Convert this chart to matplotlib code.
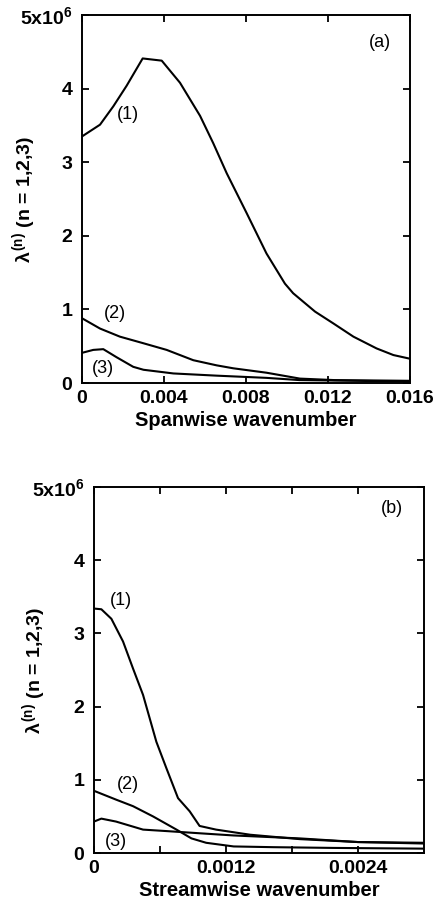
import numpy as np
import matplotlib
matplotlib.use('Agg')
import matplotlib.pyplot as plt

plt.rcParams['font.family'] = ['Liberation Sans', 'DejaVu Sans']
plt.rcParams['mathtext.fontset'] = 'custom'
plt.rcParams['mathtext.rm'] = 'Liberation Sans:bold'
plt.rcParams['mathtext.it'] = 'Liberation Sans:bold'
plt.rcParams['mathtext.bf'] = 'Liberation Sans:bold'

# Panel (a): spanwise wavenumber, eigenvalues in units of 1e6
span_k1 = [0, 0.00088, 0.00153, 0.00218, 0.00296, 0.00389, 0.00478, 0.00576,
           0.0064, 0.00706, 0.00803, 0.009, 0.0099, 0.0103, 0.01137, 0.01226,
           0.01324, 0.01437, 0.01519, 0.016]
span_l1 = [3.35, 3.51, 3.76, 4.04, 4.41, 4.38, 4.08, 3.63, 3.26, 2.85, 2.31,
           1.76, 1.35, 1.22, 0.97, 0.81, 0.63, 0.47, 0.38, 0.33]
span_k2 = [0, 0.00088, 0.00185, 0.003, 0.00413, 0.00543, 0.00657, 0.00738,
           0.009, 0.01063, 0.0123, 0.016]
span_l2 = [0.88, 0.74, 0.63, 0.54, 0.45, 0.31, 0.24, 0.20, 0.14, 0.06, 0.04, 0.03]
span_k3 = [0, 0.00055, 0.00104, 0.00169, 0.0025, 0.003, 0.00446, 0.00657,
           0.009, 0.0106, 0.016]
span_l3 = [0.41, 0.45, 0.46, 0.35, 0.22, 0.18, 0.13, 0.10, 0.07, 0.04, 0.02]

# Panel (b): streamwise wavenumber
stream_k1 = [0, 0.000067, 0.000158, 0.000264, 0.000355, 0.000446, 0.000567,
             0.000658, 0.000764, 0.00087, 0.00096, 0.00111, 0.00142, 0.00187,
             0.0024, 0.003]
stream_l1 = [3.34, 3.33, 3.2, 2.89, 2.52, 2.16, 1.52, 1.16, 0.75, 0.57, 0.37,
             0.32, 0.25, 0.19, 0.15, 0.14]
stream_k2 = [0, 0.0002, 0.000355, 0.000537, 0.00075, 0.000886, 0.00102,
             0.00127, 0.00163, 0.00217, 0.003]
stream_l2 = [0.85, 0.73, 0.64, 0.50, 0.32, 0.20, 0.14, 0.09, 0.08, 0.07, 0.06]
stream_k3 = [0, 0.000067, 0.0002, 0.000446, 0.000658, 0.00096, 0.00127,
             0.00187, 0.0024, 0.003]
stream_l3 = [0.43, 0.47, 0.43, 0.32, 0.30, 0.27, 0.24, 0.20, 0.15, 0.13]

y_ticks = [0, 1, 2, 3, 4, 5]
y_labels = ['0', '1', '2', '3', '4', r'5x10$^6$']

fig = plt.figure(figsize=(4.37, 9.10), dpi=100)
ax1 = fig.add_axes([0.1876, 0.5791, 0.7506, 0.4044])
ax2 = fig.add_axes([0.2151, 0.0626, 0.7550, 0.4022])


def style_axes(ax, label_x):
    for s in ax.spines.values():
        s.set_linewidth(1.4)
    ax.tick_params(direction='in', length=5, width=1.3, top=True, right=True,
                   labelsize=14)
    ax.tick_params(axis='y', pad=7)
    ax.tick_params(axis='x', pad=5)
    for lab in ax.get_xticklabels() + ax.get_yticklabels():
        lab.set_fontweight('bold')
    ax.set_yticks(y_ticks)
    ax.set_yticklabels(y_labels, fontweight='bold')
    ax.set_ylim(0, 5)
    ax.set_ylabel(r'$\lambda^{(n)}$ (n = 1,2,3)', fontsize=14,
                  fontweight='bold')
    ax.yaxis.set_label_coords(label_x, 0.5)


lw = 1.5
ax1.plot(span_k1, span_l1, 'k-', lw=lw)
ax1.plot(span_k2, span_l2, 'k-', lw=lw)
ax1.plot(span_k3, span_l3, 'k-', lw=lw)
ax1.set_xlim(0, 0.016)
ax1.set_xticks([0, 0.004, 0.008, 0.012, 0.016])
ax1.set_xticklabels(['0', '0.004', '0.008', '0.012', '0.016'], fontweight='bold')
style_axes(ax1, -0.134)
ax1.set_xlabel('Spanwise wavenumber', fontsize=14.5, fontweight='bold',
               labelpad=3)
ax1.text(0.01454, 4.63, '(a)', fontsize=13, ha='center', va='center')
ax1.text(0.00226, 3.65, '(1)', fontsize=13, ha='center', va='center')
ax1.text(0.00161, 0.95, '(2)', fontsize=13, ha='center', va='center')
ax1.text(0.00104, 0.20, '(3)', fontsize=13, ha='center', va='center')

ax2.plot(stream_k1, stream_l1, 'k-', lw=lw)
ax2.plot(stream_k2, stream_l2, 'k-', lw=lw)
ax2.plot(stream_k3, stream_l3, 'k-', lw=lw)
ax2.set_xlim(0, 0.003)
ax2.set_xticks([0, 0.0006, 0.0012, 0.0018, 0.0024])
ax2.set_xticklabels(['0', '', '0.0012', '', '0.0024'], fontweight='bold')
style_axes(ax2, -0.139)
ax2.set_xlabel('Streamwise wavenumber', fontsize=14.5, fontweight='bold',
               labelpad=3)
ax2.text(0.00271, 4.70, '(b)', fontsize=13, ha='center', va='center')
ax2.text(0.000249, 3.45, '(1)', fontsize=13, ha='center', va='center')
ax2.text(0.00031, 0.93, '(2)', fontsize=13, ha='center', va='center')
ax2.text(0.0002, 0.16, '(3)', fontsize=13, ha='center', va='center')

fig.savefig('out.png', dpi=100)
